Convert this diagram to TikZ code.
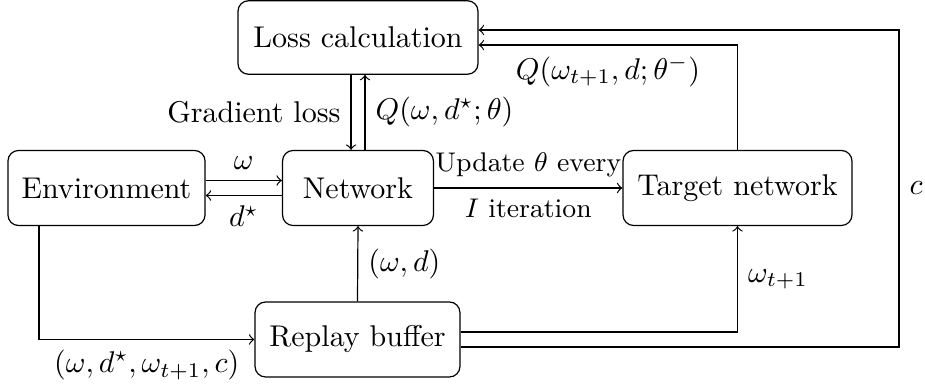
\documentclass[tikz,border=0pt]{standalone}
\usepackage{amsmath}
\begin{document}
\begin{tikzpicture}[x=0.33333pt,y=-0.33333pt,
  blk/.style={draw,rounded corners=3.5pt,minimum height=25pt,inner sep=3pt},
  conn/.style={->},
  smalllab/.style={font=\small}]
\useasboundingbox (0,0) rectangle (925,385);
\node[blk,minimum width=80pt,minimum height=24.5pt] (loss) at (358,37.5) {Loss calculation};
\node[blk,minimum width=65.7pt] (env) at (106.5,188) {Environment};
\node[blk,minimum width=50.3pt] (net) at (358,188) {Network};
\node[blk,minimum width=76.3pt] (tgt) at (737.5,188) {Target network};
\node[blk,minimum width=68.3pt] (rep) at (357.5,339.5) {Replay buffer};
\coordinate (cr) at (899,188);
% environment <-> network
\draw[conn] ([yshift=2.5pt]env.east) -- node[above] {$\omega$} ([yshift=2.5pt]net.west);
\draw[conn] ([yshift=-2.5pt]net.west) -- node[below] {$d^\star$} ([yshift=-2.5pt]env.east);
% loss <-> network
\draw[conn] ([xshift=-2.33pt]loss.south) -- node[left] {Gradient loss} ([xshift=-2.33pt]net.north);
\draw[conn] ([xshift=2.33pt]net.north) -- node[right] {$Q(\omega,d^\star;\theta)$} ([xshift=2.33pt]loss.south);
% network -> target
\draw[conn] (net.east) -- node[smalllab,above] {Update $\theta$ every} node[smalllab,below] {$I$ iteration} (tgt.west);
% replay -> network
\draw[conn] (rep.north) -- node[right] {$(\omega,d)$} (net.south);
% environment -> replay
\draw[conn] ([xshift=-22.5pt]env.south) |- node[pos=0.75,below] {$(\omega,d^\star,\omega_{t+1},c)$} (rep.west);
% replay -> target
\draw[conn] ([yshift=2.5pt]rep.east) -| node[pos=0.75,right] {$\omega_{t+1}$} (tgt.south);
% replay -> loss (c)
\draw[conn] ([yshift=-2.5pt]rep.east) -| (cr) |- ([yshift=2.5pt]loss.east);
\node[right] (clab) at (cr) {$c$};
% target -> loss
\draw[conn] (tgt.north) |- node[pos=0.75,below] {$Q(\omega_{t+1},d;\theta^-)$} ([yshift=-2.5pt]loss.east);
\end{tikzpicture}
\end{document}
